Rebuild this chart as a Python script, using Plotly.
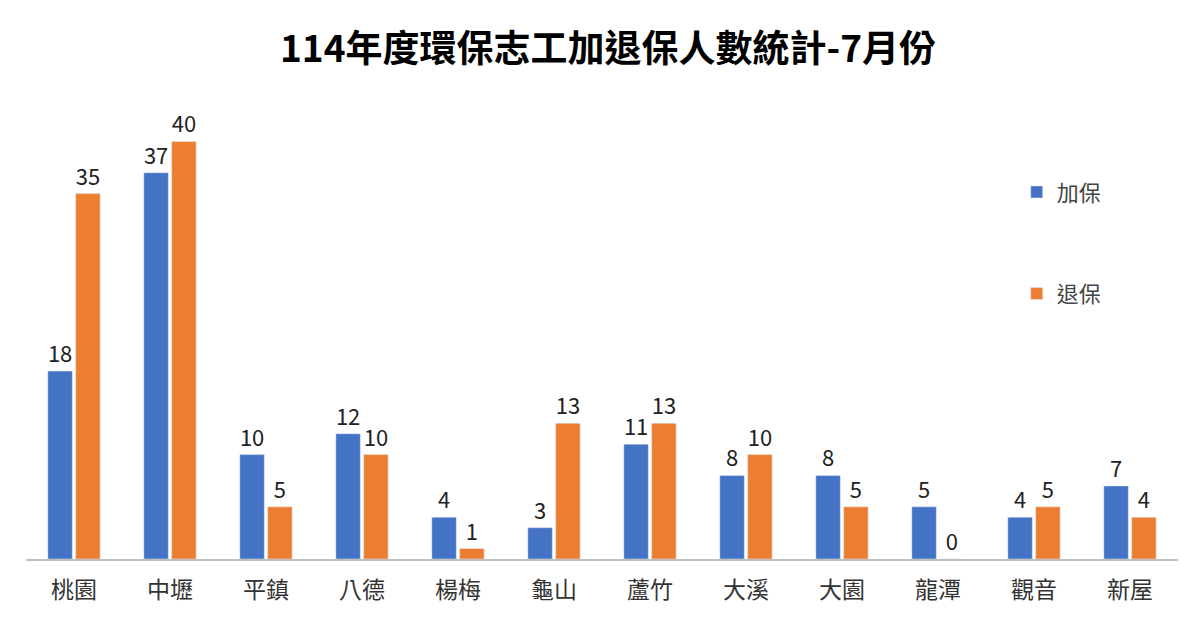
import plotly.graph_objects as go

districts = ["桃園", "中壢", "平鎮", "八德", "楊梅", "龜山", "蘆竹", "大溪", "大園", "龍潭", "觀音", "新屋"]
join_counts = [18, 37, 10, 12, 4, 3, 11, 8, 8, 5, 4, 7]
quit_counts = [35, 40, 5, 10, 1, 13, 13, 10, 5, 0, 5, 4]

font_family = "Noto Sans CJK TC, Noto Sans, sans-serif"

fig = go.Figure()
fig.add_trace(go.Bar(x=districts, y=join_counts, name="加保", marker_color="#4472C4",
                     text=join_counts, textposition="outside", cliponaxis=False,
                     textfont=dict(size=22, color="#222"), legendgroup="a"))
fig.add_trace(go.Bar(x=districts, y=quit_counts, name="退保", marker_color="#ED7D31",
                     text=quit_counts, textposition="outside", cliponaxis=False,
                     textfont=dict(size=22, color="#222"), legendgroup="b"))

fig.update_layout(
    width=1200, height=630,
    paper_bgcolor="white", plot_bgcolor="white",
    font=dict(family=font_family, color="#333"),
    title=dict(text="<b>114年度環保志工加退保人數統計-7月份</b>", x=0.5, y=0.955,
               xanchor="center", font=dict(size=37, color="black")),
    margin=dict(l=18, r=30, t=100, b=79),
    barmode="group", bargap=0.42, bargroupgap=0.12,
    showlegend=True,
    legend=dict(x=0.86, y=0.86, xanchor="left", yanchor="top", tracegroupgap=70,
                font=dict(size=22, color="#444"), bgcolor="rgba(0,0,0,0)"),
)
fig.update_xaxes(showline=True, linecolor="#bfbfbf", linewidth=1.5, ticks="outside",
                 ticklen=10, tickcolor="rgba(0,0,0,0)",
                 tickfont=dict(size=23, color="#333"))
fig.update_yaxes(visible=False, range=[0, 43.2])

fig.write_html("out.html")
